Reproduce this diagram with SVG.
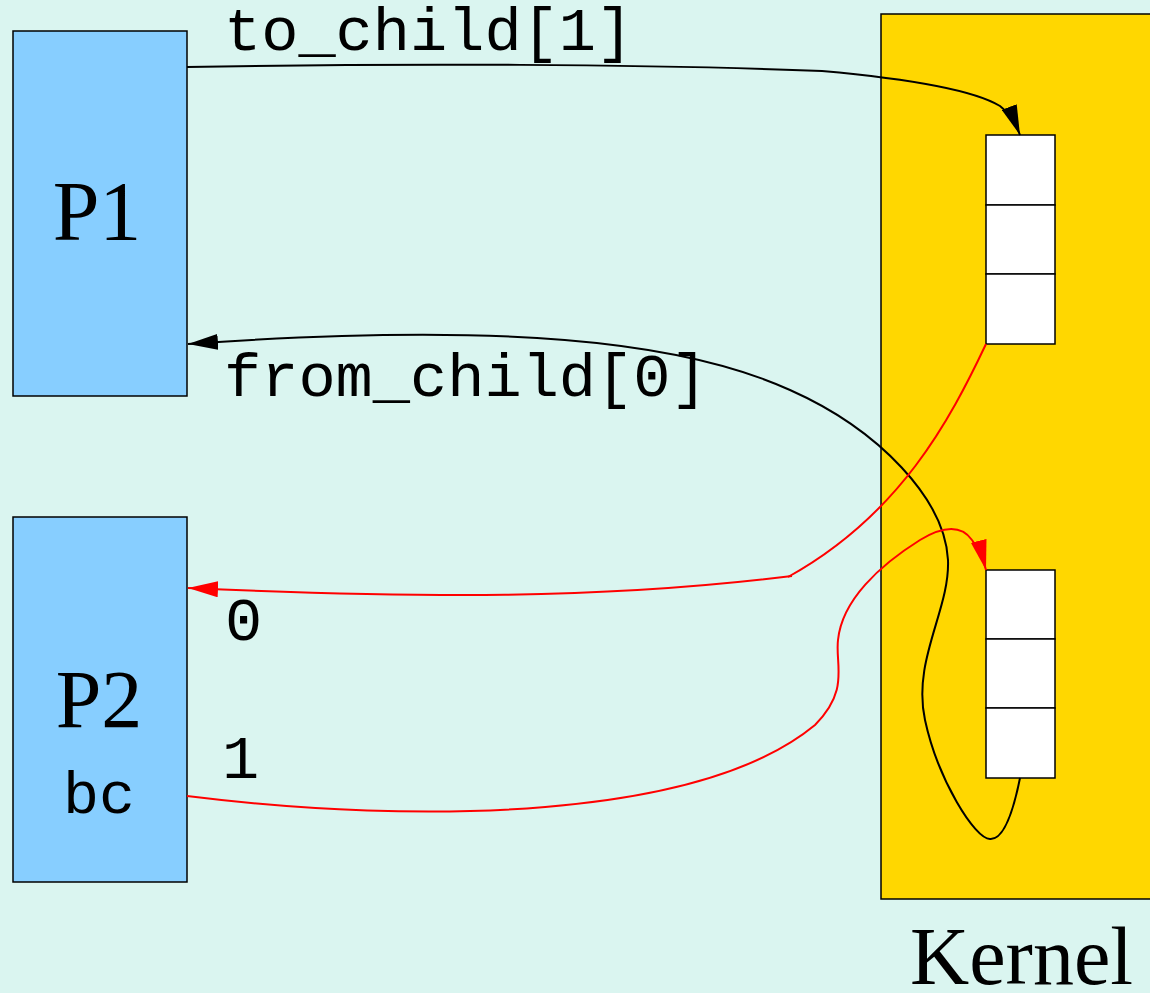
<svg xmlns="http://www.w3.org/2000/svg" width="1150" height="993" viewBox="0 0 1150 993">
<defs>
<style>
.box{stroke:#000;stroke-width:1.5}
.proc{fill:#87CEFF}
.cell{fill:#fff;stroke:#000;stroke-width:1.5}
.mono{font-family:"Liberation Mono","DejaVu Sans Mono",monospace;fill:#000}
.serif{font-family:"Liberation Serif","Times New Roman",serif;fill:#000}
.blk{fill:none;stroke:#000;stroke-width:2}
.red{fill:none;stroke:#f00;stroke-width:2}
</style>
<marker id="ab" markerUnits="userSpaceOnUse" markerWidth="30" markerHeight="16" viewBox="0 0 30 16" refX="30" refY="8" orient="auto"><path d="M0,0 L30,8 L0,16 z" fill="#000"/></marker>
<marker id="ar" markerUnits="userSpaceOnUse" markerWidth="30" markerHeight="16" viewBox="0 0 30 16" refX="30" refY="8" orient="auto"><path d="M0,0 L30,8 L0,16 z" fill="#f00"/></marker>
</defs>
<rect x="0" y="0" width="1150" height="993" fill="#DAF5F0"/>
<g id="kernel">
<rect class="box" x="881" y="14" width="280" height="885" fill="#FFD700"/>
<text class="serif" x="910" y="984" font-size="82">Kernel</text>
</g>
<g id="buf1">
<rect class="cell" x="986" y="135" width="69" height="70"/>
<rect class="cell" x="986" y="205" width="69" height="69"/>
<rect class="cell" x="986" y="274" width="69" height="70"/>
</g>
<g id="buf2">
<rect class="cell" x="986" y="570" width="69" height="69"/>
<rect class="cell" x="986" y="639" width="69" height="69"/>
<rect class="cell" x="986" y="708" width="69" height="70"/>
</g>
<g id="p1">
<rect class="box proc" x="13" y="31" width="174" height="365"/>
<text class="serif" x="97" y="240" font-size="84" text-anchor="middle">P1</text>
</g>
<g id="p2">
<rect class="box proc" x="13" y="517" width="174" height="365"/>
<text class="serif" x="99" y="727" font-size="82" text-anchor="middle">P2</text>
<text class="mono" x="99" y="813" font-size="60" text-anchor="middle">bc</text>
</g>
<g id="connectors">
<path class="blk" d="M187,67 C400,63 650,64 822,71 C900,78 970,88 1000,106 C1008,112 1015,122 1020,135" marker-end="url(#ab)"/>
<path class="blk" d="M1020,778 C1012,818 1002,840 990,839 C975,839 938,780 925,720 C912,660 950,610 948,560 C945,500 880,430 790,390 C680,340 500,322 188,344" marker-end="url(#ab)"/>
<path class="red" d="M986,344 C950,420 900,515 788,577"/>
<path class="red" d="M792,576 C600,600 420,598 188,588" marker-end="url(#ar)"/>
<path class="red" d="M187,796 C420,825 700,820 815,725 C850,690 835,665 838,640 C842,600 880,565 920,540 C945,525 962,526 972,540 C978,548 983,558 986,570" marker-end="url(#ar)"/>
<text class="mono" x="224" y="50" font-size="62">to_child[1]</text>
<text class="mono" x="224" y="396" font-size="62">from_child[0]</text>
<text class="mono" x="225" y="640" font-size="62">0</text>
<text class="mono" x="222" y="778" font-size="62">1</text>
</g>
</svg>
